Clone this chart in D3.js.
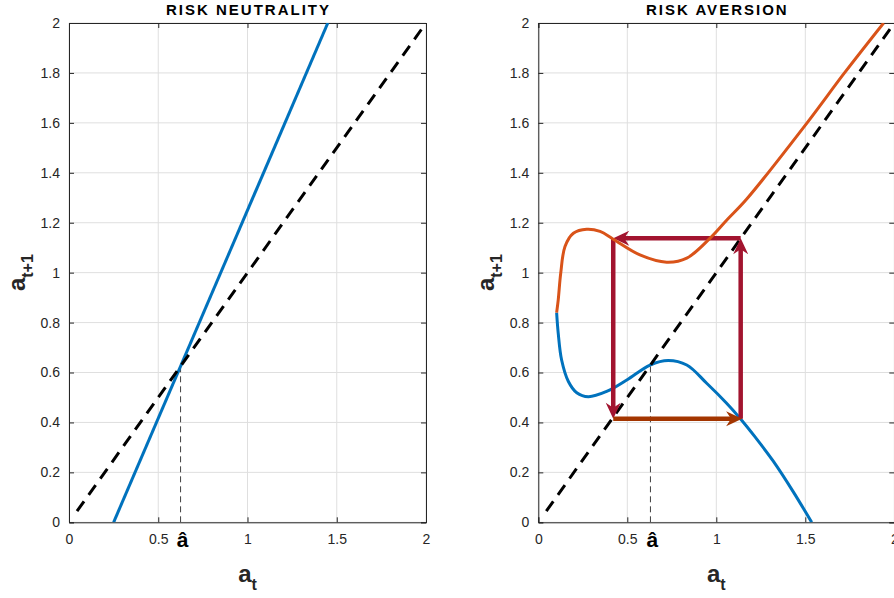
<!DOCTYPE html>
<html>
<head>
<meta charset="utf-8">
<script src="https://cdn.jsdelivr.net/npm/d3@7"></script>
<style>
  body { margin: 0; background: #fff; }
  text { font-family: "Liberation Sans", Arial, sans-serif; }
</style>
</head>
<body>
<svg id="chart" width="894" height="598"></svg>
<script>
// ---- data ----
var xTicks = [0, 0.5, 1, 1.5, 2];
var yTicks = [0, 0.2, 0.4, 0.6, 0.8, 1, 1.2, 1.4, 1.6, 1.8, 2];
var titles = ["RISK NEUTRALITY", "RISK AVERSION"];

var diagX = [0.045, 2],
    diagY = [0.045, 2];

var neutralX = [0.25, 1.45],
    neutralY = [0, 2];

var aHat = [0.625, 0.63];

// upper (orange) branch of the risk-aversion map
var upperX = [0.103, 0.112, 0.126, 0.150, 0.197, 0.272, 0.347, 0.421, 0.571, 0.721, 0.834, 0.965, 1.058, 1.171, 1.51, 1.72, 1.94];
var upperY = [0.840, 0.891, 0.998, 1.105, 1.158, 1.174, 1.165, 1.134, 1.071, 1.042, 1.058, 1.138, 1.210, 1.295, 1.60, 1.80, 2.00];

// lower (blue) branch
var lowerX = [0.103, 0.112, 0.131, 0.169, 0.216, 0.281, 0.384, 0.497, 0.628, 0.730, 0.834, 0.946, 1.058, 1.133, 1.22, 1.32, 1.43, 1.536];
var lowerY = [0.840, 0.757, 0.650, 0.564, 0.519, 0.503, 0.524, 0.570, 0.630, 0.648, 0.630, 0.557, 0.477, 0.417, 0.340, 0.245, 0.125, 0.0];

// cycle arrows (start -> end)
var arrowX1 = [1.137, 1.137, 0.421, 0.421],
    arrowY1 = [0.415, 1.138, 1.138, 0.415],
    arrowX2 = [1.137, 0.421, 0.421, 1.145],
    arrowY2 = [1.138, 1.138, 0.415, 0.415];
var arrowColors = ["#A2142F", "#A2142F", "#A2142F", "#A33500"];

// ---- layout ----
var svg = d3.select("#chart");
var plotTop = 23, plotBottom = 522.3;
var panels = [{left: 69, right: 426}, {left: 538.3, right: 894.3}];
var axisColor = "#262626";

var y = d3.scaleLinear().domain([0, 2]).range([plotBottom, plotTop]);

function arrowHead(x1, y1, x2, y2) {
  var ang = Math.atan2(y2 - y1, x2 - x1),
      len = 16, half = 7.5, notch = 5;
  var c = Math.cos(ang), s = Math.sin(ang);
  var pts = [
    [x2, y2],
    [x2 - len * c + half * s, y2 - len * s - half * c],
    [x2 - (len - notch) * c, y2 - (len - notch) * s],
    [x2 - len * c - half * s, y2 - len * s + half * c]
  ];
  return "M" + pts.map(function(p) { return p.join(","); }).join("L") + "Z";
}

panels.forEach(function(p, i) {
  var x = d3.scaleLinear().domain([0, 2]).range([p.left, p.right]);
  var g = svg.append("g");

  g.append("clipPath").attr("id", "clip" + i)
    .append("rect")
      .attr("x", p.left).attr("y", plotTop)
      .attr("width", p.right - p.left).attr("height", plotBottom - plotTop);

  // grid
  g.selectAll(".gx").data(xTicks).enter().append("line")
      .attr("x1", d => x(d)).attr("x2", d => x(d))
      .attr("y1", plotTop).attr("y2", plotBottom)
      .attr("stroke", "#dfdfdf");
  g.selectAll(".gy").data(yTicks).enter().append("line")
      .attr("x1", p.left).attr("x2", p.right)
      .attr("y1", d => y(d)).attr("y2", d => y(d))
      .attr("stroke", "#dfdfdf");

  // axes (ticks inward, box with ticks on all sides)
  var xb = d3.axisBottom(x).tickValues(xTicks).tickSize(-5).tickPadding(12)
      .tickFormat(d3.format("~g"));
  var xt = d3.axisTop(x).tickValues(xTicks).tickSize(-5).tickFormat("");
  var yl = d3.axisLeft(y).tickValues(yTicks).tickSize(-5).tickPadding(9)
      .tickFormat(d3.format("~g"));
  var yr = d3.axisRight(y).tickValues(yTicks).tickSize(-5).tickFormat("");

  [[xb, "translate(0," + plotBottom + ")"], [xt, "translate(0," + plotTop + ")"],
   [yl, "translate(" + p.left + ",0)"], [yr, "translate(" + p.right + ",0)"]]
    .forEach(function(a) {
      var ax = g.append("g").attr("transform", a[1]).call(a[0])
          .attr("font-size", 14).attr("font-family", "'Liberation Sans', Arial, sans-serif");
      ax.select(".domain").attr("stroke", axisColor);
      ax.selectAll(".tick line").attr("stroke", axisColor);
      ax.selectAll(".tick text").attr("fill", axisColor);
    });

  var plot = g.append("g").attr("clip-path", "url(#clip" + i + ")");
  var line = d3.line().x(d => x(d[0])).y(d => y(d[1]));
  var smooth = d3.line().x(d => x(d[0])).y(d => y(d[1])).curve(d3.curveCatmullRom.alpha(0.5));

  // a-hat guide
  plot.append("line")
      .attr("x1", x(aHat[i])).attr("x2", x(aHat[i]))
      .attr("y1", y(0)).attr("y2", y(aHat[i]))
      .attr("stroke", "#404040").attr("stroke-width", 1)
      .attr("stroke-dasharray", "6,4");

  if (i === 0) {
    plot.append("path").datum(d3.zip(neutralX, neutralY))
        .attr("d", line).attr("fill", "none")
        .attr("stroke", "#0072BD").attr("stroke-width", 3);
    plot.append("path").datum(d3.zip(diagX, diagY))
        .attr("d", line).attr("fill", "none")
        .attr("stroke", "#000").attr("stroke-width", 3)
        .attr("stroke-dasharray", "12,8");
  } else {
    plot.append("path").datum(d3.zip(lowerX, lowerY))
        .attr("d", smooth).attr("fill", "none")
        .attr("stroke", "#0072BD").attr("stroke-width", 3);
    plot.append("path").datum(d3.zip(diagX, diagY))
        .attr("d", line).attr("fill", "none")
        .attr("stroke", "#000").attr("stroke-width", 3)
        .attr("stroke-dasharray", "12,8");

    arrowX1.forEach(function(d, k) {
      var x1 = x(arrowX1[k]), y1 = y(arrowY1[k]),
          x2 = x(arrowX2[k]), y2 = y(arrowY2[k]);
      var ang = Math.atan2(y2 - y1, x2 - x1);
      plot.append("line")
          .attr("x1", x1).attr("y1", y1)
          .attr("x2", x2 - 10 * Math.cos(ang)).attr("y2", y2 - 10 * Math.sin(ang))
          .attr("stroke", arrowColors[k]).attr("stroke-width", 4.5);
      plot.append("path").attr("d", arrowHead(x1, y1, x2, y2))
          .attr("fill", arrowColors[k]);
    });

    plot.append("path").datum(d3.zip(upperX, upperY))
        .attr("d", smooth).attr("fill", "none")
        .attr("stroke", "#D95319").attr("stroke-width", 3);
  }

  // labels
  var cx = (p.left + p.right) / 2;
  g.append("text").attr("x", cx + 1).attr("y", 15)
      .attr("text-anchor", "middle").attr("font-weight", "bold")
      .attr("font-size", 15).attr("letter-spacing", 2).attr("fill", "#000")
      .text(titles[i]);

  g.append("text").attr("x", x(aHat[i]) + 2).attr("y", 547)
      .attr("text-anchor", "middle").attr("font-weight", "bold")
      .attr("font-size", 21).attr("fill", "#000")
      .text("â");

  var xl = g.append("text").attr("x", cx).attr("y", 582)
      .attr("text-anchor", "middle").attr("font-weight", "bold")
      .attr("font-size", 24).attr("fill", "#262626");
  xl.append("tspan").text("a");
  xl.append("tspan").attr("dy", 8).attr("font-size", 16).text("t");

  var ylab = g.append("text")
      .attr("transform", "translate(" + (p.left - 44) + "," + ((plotTop + plotBottom) / 2) + ") rotate(-90)")
      .attr("text-anchor", "middle").attr("font-weight", "bold")
      .attr("font-size", 24).attr("fill", "#262626");
  ylab.append("tspan").text("a");
  ylab.append("tspan").attr("dy", 8).attr("font-size", 16).text("t+1");
});
</script>
</body>
</html>
